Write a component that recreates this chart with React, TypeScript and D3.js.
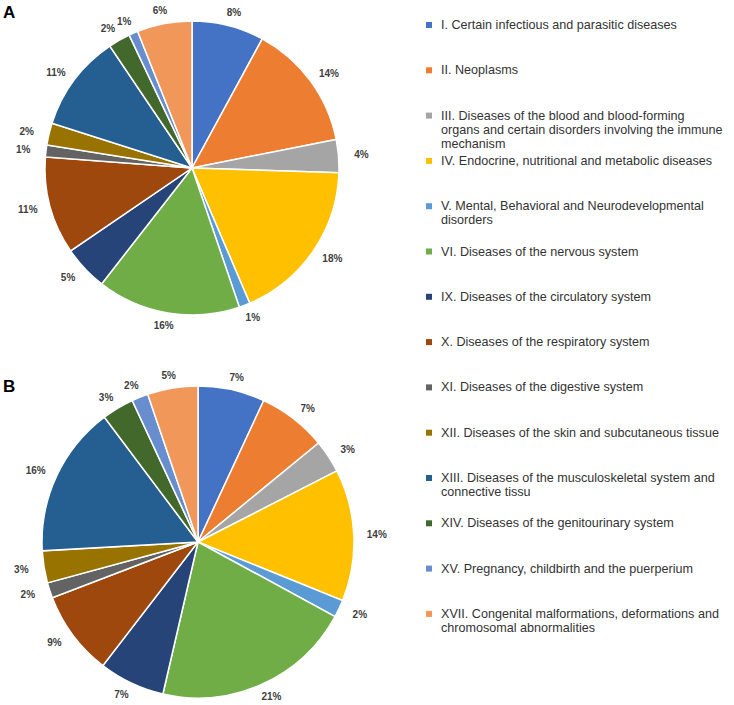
import React from "react";
import * as d3 from "d3";

const categories: string[] = [
  "I. Certain infectious and parasitic diseases",
  "II. Neoplasms",
  "III. Diseases of the blood and blood-forming\norgans and certain disorders involving the immune\nmechanism",
  "IV. Endocrine, nutritional and metabolic diseases",
  "V. Mental, Behavioral and Neurodevelopmental\ndisorders",
  "VI. Diseases of the nervous system",
  "IX. Diseases of the circulatory system",
  "X. Diseases of the respiratory system",
  "XI. Diseases of the digestive system",
  "XII. Diseases of the skin and subcutaneous tissue",
  "XIII. Diseases of the musculoskeletal system and\nconnective tissu",
  "XIV. Diseases of the genitourinary system",
  "XV. Pregnancy, childbirth and the puerperium",
  "XVII. Congenital malformations, deformations and\nchromosomal abnormalities",
];

const colors: string[] = [
  "#4472C4", "#ED7D31", "#A5A5A5", "#FFC000", "#5B9BD5", "#70AD47", "#264478",
  "#9E480E", "#636363", "#997300", "#255E91", "#43682B", "#698ED0", "#F1975A",
];

const valuesA: number[] = [7.9, 13.9, 3.6, 18.0, 1.2, 15.7, 4.9, 10.7, 1.3, 2.4, 10.6, 2.4, 1.0, 6.0];
const valuesB: number[] = [6.9, 7.1, 3.4, 13.6, 1.8, 20.6, 6.8, 8.7, 1.6, 3.3, 15.6, 3.3, 1.7, 5.2];

const panels = [
  { letter: "A", values: valuesA, cx: 192, cy: 168, r: 147, lx: 3, ly: 18 },
  { letter: "B", values: valuesB, cx: 198, cy: 542, r: 156, lx: 3, ly: 392 },
];

function Pie({ values, cx, cy, r }: { values: number[]; cx: number; cy: number; r: number }) {
  const total = d3.sum(values);
  const pie = d3.pie<number>().sort(null).value((d) => d);
  const arcs = pie(values);
  const arc = d3.arc<d3.PieArcDatum<number>>().innerRadius(0).outerRadius(r);
  return (
    <g transform={`translate(${cx},${cy})`}>
      {arcs.map((a, i) => (
        <path key={i} d={arc(a) || ""} fill={colors[i]} stroke="#fff" strokeWidth={1.5} />
      ))}
      {arcs.map((a, i) => {
        const mid = (a.startAngle + a.endAngle) / 2;
        const s = Math.sin(mid);
        const c = Math.cos(mid);
        const x = s * (r + 8) + s * 15;
        const y = -c * (r + 8) - c * 5;
        return (
          <text
            key={"t" + i}
            x={x}
            y={y}
            textAnchor="middle"
            dominantBaseline="central"
            fontSize={10}
            fontWeight="bold"
            fill="#404040"
          >
            {Math.round((a.data / total) * 100) + "%"}
          </text>
        );
      })}
    </g>
  );
}

export default function App() {
  return (
    <svg
      width={734}
      height={705}
      style={{ position: "absolute", left: 0, top: 0, background: "#fff" }}
      fontFamily="'Liberation Sans', Arial, sans-serif"
    >
      <rect width={734} height={705} fill="#fff" />
      {panels.map((p) => (
        <g key={p.letter}>
          <Pie values={p.values} cx={p.cx} cy={p.cy} r={p.r} />
          <text x={p.lx} y={p.ly} fontSize={17} fontWeight="bold" fill="#000">
            {p.letter}
          </text>
        </g>
      ))}
      <g>
        {categories.map((c, i) => {
          const y0 = 25 + i * 45.3;
          const lines = c.split("\n");
          return (
            <g key={i}>
              <rect x={426} y={y0 - 3} width={6} height={6} fill={colors[i]} />
              {lines.map((ln, j) => (
                <text
                  key={j}
                  x={441}
                  y={y0 + j * 14.2}
                  dominantBaseline="central"
                  fontSize={12.6}
                  fill="#333"
                >
                  {ln}
                </text>
              ))}
            </g>
          );
        })}
      </g>
    </svg>
  );
}
